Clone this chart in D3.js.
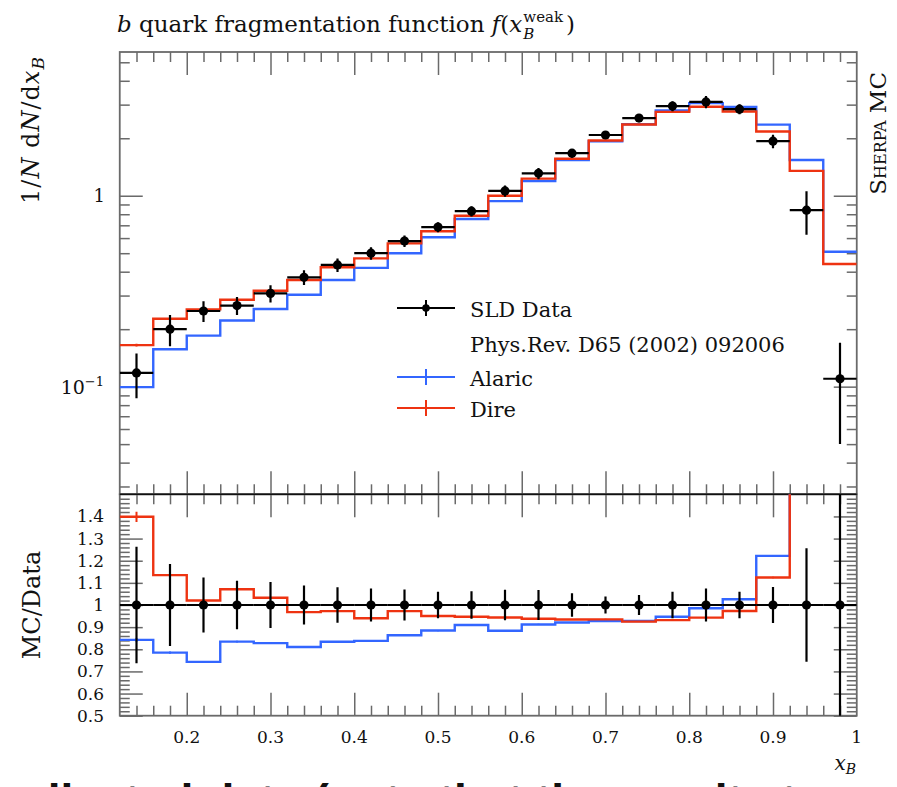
<!DOCTYPE html>
<html>
<head>
<meta charset="utf-8">
<script src="https://cdn.jsdelivr.net/npm/d3@7/dist/d3.min.js"></script>
<style>
body { margin: 0; background: #fff; overflow: hidden; }
text { font-family: "DejaVu Serif", serif; fill: #111; }
</style>
</head>
<body>
<script>
// histogram binning (x_B)
var binEdges = [0.12, 0.16, 0.20, 0.24, 0.28, 0.32, 0.36, 0.40, 0.44, 0.48, 0.52, 0.56,
                0.60, 0.64, 0.68, 0.72, 0.76, 0.80, 0.84, 0.88, 0.92, 0.96, 1.00];

// SLD data, 1/N dN/dx_B
var sldValues = [0.118, 0.200, 0.249, 0.266, 0.308, 0.374, 0.434, 0.500, 0.579, 0.685, 0.830,
                 1.06, 1.31, 1.67, 2.08, 2.55, 2.95, 3.10, 2.84, 1.93, 0.84, 0.11];
var sldErrors = [0.031, 0.037, 0.031, 0.029, 0.032, 0.033, 0.035, 0.0375, 0.0405, 0.041, 0.052,
                 0.073, 0.089, 0.089, 0.081, 0.115, 0.177, 0.23, 0.17, 0.156, 0.215, 0.06];

// MC predictions
var alaricValues = [0.0994, 0.157, 0.185, 0.222, 0.255, 0.303, 0.362, 0.419, 0.500, 0.606, 0.755,
                    0.937, 1.195, 1.538, 1.93, 2.366, 2.794, 3.054, 2.914, 2.358, 1.54, 0.509];
var alaricErrors = [0.001, 0.001, 0.001, 0.001, 0.001, 0.0015, 0.0015, 0.002, 0.002, 0.002, 0.003,
                    0.003, 0.004, 0.004, 0.005, 0.006, 0.006, 0.007, 0.007, 0.006, 0.005, 0.003];
var direValues = [0.165, 0.227, 0.254, 0.285, 0.318, 0.362, 0.422, 0.470, 0.563, 0.651, 0.786,
                  1.00, 1.229, 1.561, 1.945, 2.359, 2.749, 2.923, 2.763, 2.17, 1.35, 0.439];
var direErrors = [0.0027, 0.0012, 0.001, 0.001, 0.001, 0.0015, 0.0015, 0.002, 0.002, 0.002, 0.003,
                  0.003, 0.004, 0.004, 0.005, 0.006, 0.006, 0.007, 0.007, 0.006, 0.005, 0.003];

// axis ticks and labels
var xTickValues = [0.2, 0.3, 0.4, 0.5, 0.6, 0.7, 0.8, 0.9, 1.0];
var xTickLabels = ["0.2", "0.3", "0.4", "0.5", "0.6", "0.7", "0.8", "0.9", "1"];
var yMainMajor = [0.1, 1];
var yMainMinor = [0.03, 0.04, 0.05, 0.06, 0.07, 0.08, 0.09, 0.2, 0.3, 0.4, 0.5, 0.6, 0.7, 0.8, 0.9, 2, 3, 4, 5];
var ratioTickValues = [0.5, 0.6, 0.7, 0.8, 0.9, 1.0, 1.1, 1.2, 1.3, 1.4];
var ratioTickLabels = ["0.5", "0.6", "0.7", "0.8", "0.9", "1", "1.1", "1.2", "1.3", "1.4"];

var svgWidth = 897;
var svgHeight = 787;

var left = 119.75, right = 856.75;
var mainTop = 52, mainBottom = 494.3;
var ratioTop = 494.3, ratioBottom = 715.7;

var blue = "#3366ff";
var red = "#ee3311";
var frameColor = "#6a6a6a";

var svg = d3.select("body")
    .append("svg")
    .attr("width", svgWidth)
    .attr("height", svgHeight);

var xScale = d3.scaleLinear().domain([0.12, 1.0]).range([left, right]);
var yMain = d3.scaleLog().domain([0.0273, 5.66]).range([mainBottom, mainTop]);
var yRatio = d3.scaleLinear().domain([0.5, 1.5]).range([ratioBottom, ratioTop]);

var bins = sldValues.map(function(v, i) {
    return {
        lo: binEdges[i], hi: binEdges[i + 1], mid: (binEdges[i] + binEdges[i + 1]) / 2,
        data: v, err: sldErrors[i],
        alaric: alaricValues[i], alaricErr: alaricErrors[i],
        dire: direValues[i], direErr: direErrors[i]
    };
});

// clip paths for the two panels
var defs = svg.append("defs");
defs.append("clipPath").attr("id", "clipMain").append("rect")
    .attr("x", left).attr("y", mainTop).attr("width", right - left).attr("height", mainBottom - mainTop);
defs.append("clipPath").attr("id", "clipRatio").append("rect")
    .attr("x", left).attr("y", ratioTop).attr("width", right - left).attr("height", ratioBottom - ratioTop);

// ---- ticks ----
var xMinor = d3.range(0.14, 0.995, 0.02).filter(function(v) {
    return Math.abs(v * 10 - Math.round(v * 10)) > 1e-6;
});
var ratioMinor = d3.range(0.52, 1.495, 0.02).filter(function(v) {
    return Math.abs(v * 10 - Math.round(v * 10)) > 1e-6;
});

function ticks(axisFn, scale, values, size, transform) {
    var g = svg.append("g")
        .attr("transform", transform)
        .call(axisFn(scale).tickValues(values).tickSize(size).tickFormat(""));
    g.select(".domain").remove();
    g.selectAll("line").attr("stroke", frameColor).attr("stroke-width", 1.5);
    return g;
}

var xMajorInside = xTickValues.filter(function(v) { return v < 0.999; });

// main panel
ticks(d3.axisTop, xScale, xMinor, -10, "translate(0," + mainTop + ")");
ticks(d3.axisTop, xScale, xMajorInside, -23, "translate(0," + mainTop + ")");
ticks(d3.axisBottom, xScale, xMinor, -10, "translate(0," + mainBottom + ")");
ticks(d3.axisBottom, xScale, xMajorInside, -23, "translate(0," + mainBottom + ")");
ticks(d3.axisLeft, yMain, yMainMinor, -10, "translate(" + left + ",0)");
ticks(d3.axisLeft, yMain, yMainMajor, -23, "translate(" + left + ",0)");
ticks(d3.axisRight, yMain, yMainMinor, -10, "translate(" + right + ",0)");
ticks(d3.axisRight, yMain, yMainMajor, -23, "translate(" + right + ",0)");

// ratio panel
ticks(d3.axisTop, xScale, xMinor, -10, "translate(0," + ratioTop + ")");
ticks(d3.axisTop, xScale, xMajorInside, -23, "translate(0," + ratioTop + ")");
ticks(d3.axisBottom, xScale, xMinor, -10, "translate(0," + ratioBottom + ")");
ticks(d3.axisBottom, xScale, xMajorInside, -23, "translate(0," + ratioBottom + ")");
ticks(d3.axisLeft, yRatio, ratioMinor, -10, "translate(" + left + ",0)");
ticks(d3.axisLeft, yRatio, ratioTickValues, -23, "translate(" + left + ",0)");
ticks(d3.axisRight, yRatio, ratioMinor, -10, "translate(" + right + ",0)");
ticks(d3.axisRight, yRatio, ratioTickValues, -23, "translate(" + right + ",0)");

// frames
svg.append("rect")
    .attr("x", left).attr("y", mainTop)
    .attr("width", right - left).attr("height", mainBottom - mainTop)
    .attr("fill", "none").attr("stroke", frameColor).attr("stroke-width", 1.8);
svg.append("rect")
    .attr("x", left).attr("y", ratioTop)
    .attr("width", right - left).attr("height", ratioBottom - ratioTop)
    .attr("fill", "none").attr("stroke", frameColor).attr("stroke-width", 1.8);
svg.append("line")
    .attr("x1", left).attr("x2", right).attr("y1", ratioTop).attr("y2", ratioTop)
    .attr("stroke", "#111").attr("stroke-width", 1.6);

// ---- MC histograms ----
function stepLine(yScale, key, ratio) {
    var pts = bins.map(function(b) {
        return [b.lo, ratio ? b[key] / b.data : b[key]];
    });
    var last = bins[bins.length - 1];
    pts.push([last.hi, ratio ? last[key] / last.data : last[key]]);
    return d3.line()
        .x(function(d) { return xScale(d[0]); })
        .y(function(d) { return yScale(d[1]); })
        .curve(d3.curveStepAfter)(pts);
}

function drawMC(group, yScale, key, color, ratio) {
    group.append("path")
        .attr("d", stepLine(yScale, key, ratio))
        .attr("fill", "none")
        .attr("stroke", color)
        .attr("stroke-width", 2.4);
    group.selectAll(null)
        .data(bins)
        .enter()
        .append("line")
        .attr("x1", function(d) { return xScale(d.mid); })
        .attr("x2", function(d) { return xScale(d.mid); })
        .attr("y1", function(d) {
            var v = d[key] + d[key + "Err"];
            return yScale(ratio ? v / d.data : v);
        })
        .attr("y2", function(d) {
            var v = d[key] - d[key + "Err"];
            return yScale(ratio ? v / d.data : v);
        })
        .attr("stroke", color)
        .attr("stroke-width", 2);
}

var mainGroup = svg.append("g").attr("clip-path", "url(#clipMain)");
var ratioGroup = svg.append("g").attr("clip-path", "url(#clipRatio)");

drawMC(mainGroup, yMain, "alaric", blue, false);
drawMC(mainGroup, yMain, "dire", red, false);
drawMC(ratioGroup, yRatio, "alaric", blue, true);
drawMC(ratioGroup, yRatio, "dire", red, true);

// ---- data ----
function drawData(group, yScale, ratio) {
    var pts = group.selectAll(null).data(bins).enter().append("g");
    pts.append("line")
        .attr("x1", function(d) { return xScale(d.lo); })
        .attr("x2", function(d) { return xScale(d.hi); })
        .attr("y1", function(d) { return yScale(ratio ? 1 : d.data); })
        .attr("y2", function(d) { return yScale(ratio ? 1 : d.data); })
        .attr("stroke", "#000").attr("stroke-width", 2.2);
    pts.append("line")
        .attr("x1", function(d) { return xScale(d.mid); })
        .attr("x2", function(d) { return xScale(d.mid); })
        .attr("y1", function(d) { return yScale(ratio ? 1 + d.err / d.data : d.data + d.err); })
        .attr("y2", function(d) { return yScale(ratio ? 1 - d.err / d.data : d.data - d.err); })
        .attr("stroke", "#000").attr("stroke-width", 2.2);
    pts.append("circle")
        .attr("cx", function(d) { return xScale(d.mid); })
        .attr("cy", function(d) { return yScale(ratio ? 1 : d.data); })
        .attr("r", 4.6)
        .attr("fill", "#000");
}

drawData(mainGroup, yMain, false);
drawData(ratioGroup, yRatio, true);

// ---- tick labels ----
svg.append("g").selectAll("text")
    .data(xTickValues)
    .enter()
    .append("text")
    .attr("x", function(d) { return xScale(d); })
    .attr("y", 743)
    .attr("text-anchor", "middle")
    .style("font-size", "17px")
    .text(function(d, i) { return xTickLabels[i]; });

svg.append("g").selectAll("text")
    .data(ratioTickValues)
    .enter()
    .append("text")
    .attr("x", 104)
    .attr("y", function(d) { return yRatio(d) + 6; })
    .attr("text-anchor", "end")
    .style("font-size", "17px")
    .text(function(d, i) { return ratioTickLabels[i]; });

svg.append("text")
    .attr("x", 105).attr("y", yMain(1) + 6)
    .attr("text-anchor", "end")
    .style("font-size", "18px")
    .text("1");

var decade = svg.append("text")
    .attr("x", 104).attr("y", yMain(0.1) + 7)
    .attr("text-anchor", "end")
    .style("font-size", "19px");
decade.append("tspan").text("10");
decade.append("tspan").attr("dy", -8).style("font-size", "13px").text("\u22121");

// ---- titles ----
var titleSize = 23;
var title = svg.append("text")
    .attr("x", 117).attr("y", 32)
    .style("font-size", titleSize + "px");
title.append("tspan").style("font-style", "italic").text("b");
title.append("tspan").text(" quark fragmentation function ");
title.append("tspan").style("font-style", "italic").text("f");
title.append("tspan").text("(");
title.append("tspan").style("font-style", "italic").text("x");
var titleEnd = 117 + title.node().getComputedTextLength() + 1;
var sup = svg.append("text")
    .attr("x", titleEnd).attr("y", 22)
    .style("font-size", "15px")
    .text("weak");
svg.append("text")
    .attr("x", titleEnd).attr("y", 39)
    .style("font-size", "15px").style("font-style", "italic")
    .text("B");
svg.append("text")
    .attr("x", titleEnd + sup.node().getComputedTextLength() + 3).attr("y", 32)
    .style("font-size", titleSize + "px")
    .text(")");

var yLabel = svg.append("text")
    .attr("transform", "translate(39,130) rotate(-90)")
    .attr("text-anchor", "middle")
    .style("font-size", "24px")
    .style("letter-spacing", "1px");
yLabel.append("tspan").text("1/");
yLabel.append("tspan").style("font-style", "italic").text("N");
yLabel.append("tspan").text(" d");
yLabel.append("tspan").style("font-style", "italic").text("N");
yLabel.append("tspan").text("/d");
yLabel.append("tspan").style("font-style", "italic").text("x");
yLabel.append("tspan").style("font-style", "italic").style("font-size", "17px").attr("dy", 5).text("B");

svg.append("text")
    .attr("transform", "translate(40,605) rotate(-90)")
    .attr("text-anchor", "middle")
    .style("font-size", "24px")
    .text("MC/Data");

svg.append("text")
    .attr("transform", "translate(886,72) rotate(-90)")
    .attr("text-anchor", "end")
    .style("font-size", "23px")
    .style("font-variant", "small-caps")
    .text("Sherpa MC");

var xLabel = svg.append("text")
    .attr("x", 856).attr("y", 770)
    .attr("text-anchor", "end")
    .style("font-size", "20px");
xLabel.append("tspan").style("font-style", "italic").text("x");
xLabel.append("tspan").style("font-style", "italic").style("font-size", "14px").attr("dy", 4).text("B");

// ---- legend ----
var legendX1 = 397, legendX2 = 455, legendMid = 426, legendText = 470;
var legendItems = [
    { label: "SLD Data", color: "#000", y: 308, dot: true },
    { label: "Alaric", color: blue, y: 377, dot: false },
    { label: "Dire", color: red, y: 408, dot: false }
];
var legend = svg.append("g");
legendItems.forEach(function(item) {
    legend.append("line")
        .attr("x1", legendX1).attr("x2", legendX2)
        .attr("y1", item.y).attr("y2", item.y)
        .attr("stroke", item.color).attr("stroke-width", 2.2);
    legend.append("line")
        .attr("x1", legendMid).attr("x2", legendMid)
        .attr("y1", item.y - 8).attr("y2", item.y + 8)
        .attr("stroke", item.color).attr("stroke-width", 2);
    if (item.dot) {
        legend.append("circle")
            .attr("cx", legendMid).attr("cy", item.y).attr("r", 3.8).attr("fill", "#000");
    }
    legend.append("text")
        .attr("x", legendText).attr("y", item.y + 9)
        .style("font-size", "21px")
        .text(item.label);
});
legend.append("text")
    .attr("x", legendText).attr("y", 352)
    .style("font-size", "21px")
    .text("Phys.Rev. D65 (2002) 092006");

// cropped line of the surrounding page below the figure
svg.append("text")
    .attr("x", -6).attr("y", 817)
    .style("font-family", "'Liberation Sans', sans-serif")
    .style("font-weight", "bold")
    .style("font-size", "46px")
    .text("collected data (note that the result at");
</script>
</body>
</html>
